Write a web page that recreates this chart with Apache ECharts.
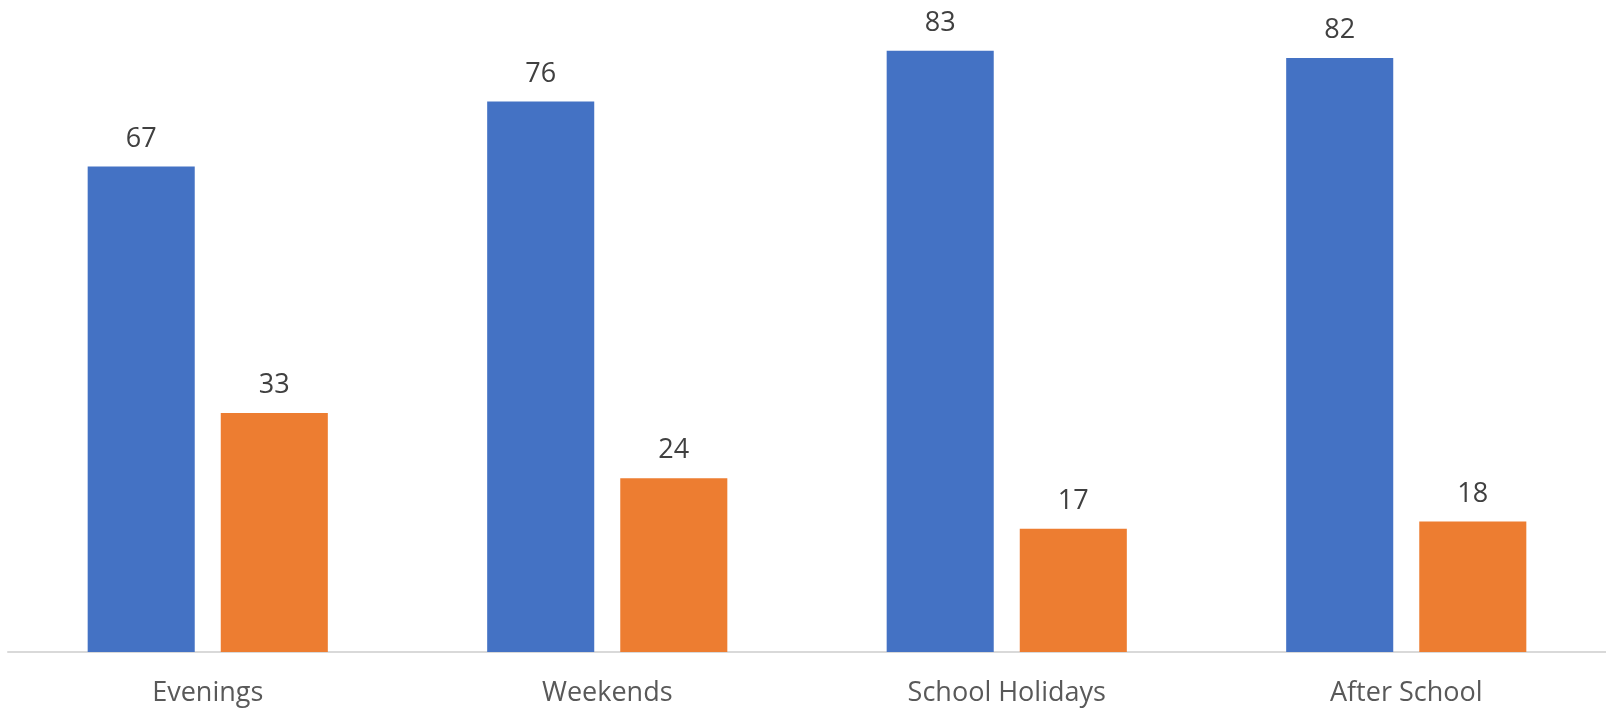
<!DOCTYPE html>
<html><head><meta charset="utf-8">
<script src="https://cdn.jsdelivr.net/npm/echarts@6/dist/echarts.min.js"></script>
<style>html,body{margin:0;padding:0;background:#fff}#c{width:1606px;height:711px}</style>
</head><body><div id="c"></div>
<script>
const categories = ['Evenings', 'Weekends', 'School Holidays', 'After School'];
const seriesA = [67, 76, 83, 82];
const seriesB = [33, 24, 17, 18];

const chart = echarts.init(document.getElementById('c'));
const labelStyle = { show: true, position: 'top', distance: 14, color: '#404040', fontSize: 27, fontFamily: 'Open Sans' };
chart.setOption({
  animation: false,
  grid: { left: 8, right: 0, top: 0, bottom: 59 },
  xAxis: {
    type: 'category', data: categories,
    axisLine: { lineStyle: { color: '#D9D9D9', width: 2 } },
    axisTick: { show: false },
    axisLabel: { color: '#595959', fontSize: 27, fontFamily: 'Open Sans', margin: 28 }
  },
  yAxis: { type: 'value', min: 0, max: 90, show: false, splitLine: { show: false } },
  series: [
    { type: 'bar', data: seriesA, barWidth: '26.8%', barGap: '24.3%', itemStyle: { color: '#4472C4' }, label: labelStyle },
    { type: 'bar', data: seriesB, barWidth: '26.8%', barGap: '24.3%', itemStyle: { color: '#ED7D31' }, label: labelStyle }
  ]
});
</script></body></html>
